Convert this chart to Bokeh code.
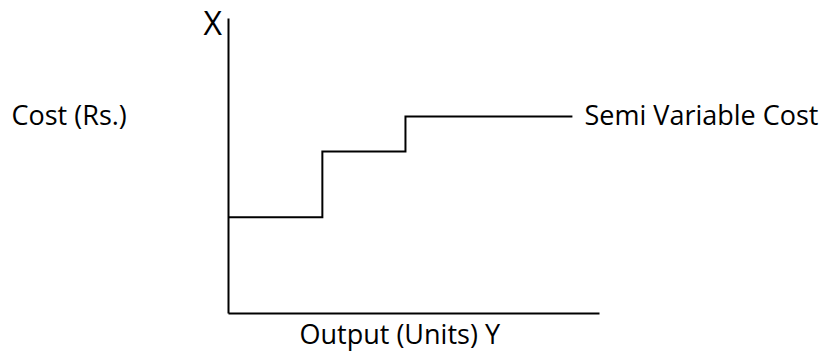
from bokeh.plotting import figure
from bokeh.models import Range1d, Label
from bokeh.embed import file_html
from bokeh.resources import INLINE

# ---- data ----
output_units = [0, 2.53, 4.77, 9.27]      # step breakpoints (Output)
semi_variable_cost = [3.26, 5.49, 6.68, 6.68]  # cost level per step
axis_x_max = [10.0]
axis_y_max = [10.0]

title_x_axis = "Output (Units) Y"
title_y_axis = "Cost (Rs.)"
axis_letter = "X"
series_name = "Semi Variable Cost"

# ---- layout (pixels) ----
W, H = 832, 356
ORIGIN_X, ORIGIN_Y = 228, 43      # origin position in figure px (from left, from bottom)
PX_X, PX_Y = 37.1, 29.5           # px per data unit

def dx(px):
    return (px - ORIGIN_X) / PX_X

def dy(px_from_top):
    return ((H - px_from_top) - ORIGIN_Y) / PX_Y

p = figure(width=W, height=H, output_backend="svg", toolbar_location=None,
           x_range=Range1d(-ORIGIN_X / PX_X, (W - ORIGIN_X) / PX_X),
           y_range=Range1d(-ORIGIN_Y / PX_Y, (H - ORIGIN_Y) / PX_Y),
           x_axis_location=None, y_axis_location=None, min_border=0)
p.outline_line_color = None
p.grid.visible = False
p.background_fill_color = "white"
p.border_fill_color = "white"

# axes
p.line([0, 0], [0, axis_y_max[0]], line_color="black", line_width=2)
p.line([0, axis_x_max[0]], [0, 0], line_color="black", line_width=2)

# step line
p.step(output_units, semi_variable_cost, mode="after", line_color="black",
       line_width=2, line_join="miter")

FONT = "Open Sans"
def lab(text, xpx, ypx_mid, size):
    p.add_layout(Label(x=dx(xpx), y=dy(ypx_mid), text=text, text_font=FONT,
                       text_font_size=f"{size}px", text_color="black",
                       text_align="left", text_baseline="middle"))

lab(axis_letter, 203, 21.5, 32)
lab(title_y_axis, 11, 114, 27)
lab(series_name, 584, 114, 27)
lab(title_x_axis, 299, 333, 27)

open("out.html", "w").write(file_html(p, INLINE))
